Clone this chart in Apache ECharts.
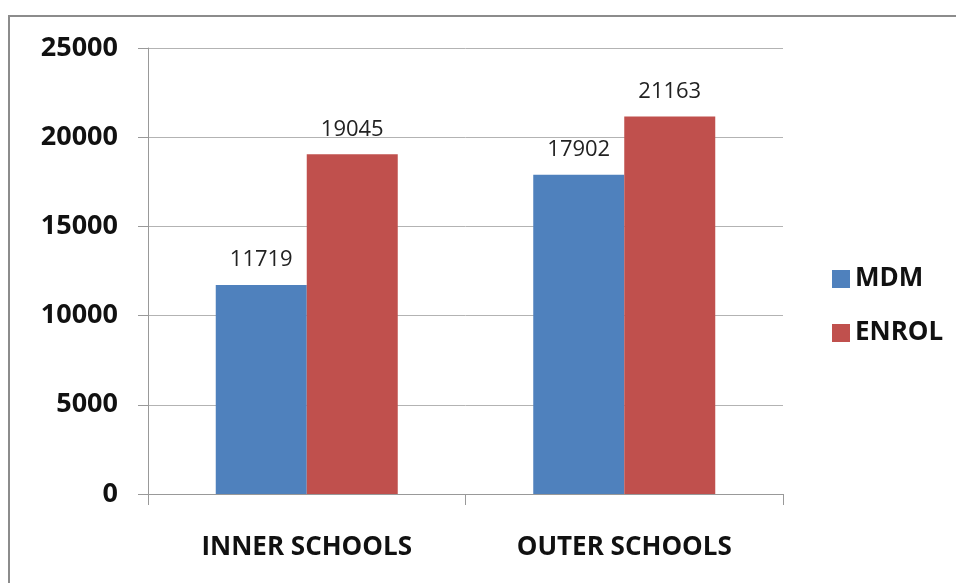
<!DOCTYPE html>
<html>
<head>
<meta charset="utf-8">
<script src="https://cdn.jsdelivr.net/npm/echarts@6/dist/echarts.min.js"></script>
<style>html,body{margin:0;padding:0;background:#fff;}#c{width:956px;height:583px;}</style>
</head>
<body>
<div id="c"></div>
<script>
const categories = ['INNER SCHOOLS', 'OUTER SCHOOLS'];
const mdm = [11719, 17902];
const enrol = [19045, 21163];
const yTicks = [0, 5000, 10000, 15000, 20000, 25000];

const chart = echarts.init(document.getElementById('c'));
const labelStyle = {show: true, position: 'top', distance: 14, fontFamily: 'Open Sans', fontSize: 22, color: '#222'};
chart.setOption({
  animation: false,
  backgroundColor: '#fff',
  graphic: [{type: 'rect', shape: {x: 9, y: 16, width: 1000, height: 700}, style: {fill: 'none', stroke: '#8c8c8c', lineWidth: 2}, silent: true}],
  grid: {left: 148, top: 48, right: 173, bottom: 89, containLabel: false},
  legend: {
    orient: 'vertical', left: 827, top: 261,
    itemWidth: 18, itemHeight: 18, itemGap: 28, icon: 'rect',
    textStyle: {fontFamily: 'Open Sans', fontWeight: 'bold', fontSize: 26, color: '#111', lineHeight: 22, padding: [2, 0, 0, 0]},
    data: ['MDM', 'ENROL']
  },
  xAxis: {
    type: 'category', data: categories,
    axisLine: {lineStyle: {color: '#999', width: 1}},
    axisTick: {show: true, length: 11, alignWithLabel: false, lineStyle: {color: '#999'}},
    axisLabel: {margin: 41, fontFamily: 'Open Sans', fontWeight: 'bold', fontSize: 26, color: '#111'}
  },
  yAxis: {
    type: 'value', min: 0, max: 25000, interval: 5000,
    axisLine: {show: true, lineStyle: {color: '#999', width: 1}},
    axisTick: {show: true, length: 10, lineStyle: {color: '#999'}},
    splitLine: {show: true, lineStyle: {color: '#b3b3b3', width: 1}},
    axisLabel: {margin: 30, fontFamily: 'Open Sans', fontWeight: 'bold', fontSize: 27, color: '#111',
      formatter: v => yTicks.includes(v) ? String(v) : ''}
  },
  series: [
    {name: 'MDM', type: 'bar', data: mdm, barWidth: 91, barGap: '0%', itemStyle: {color: '#4F81BD'}, label: labelStyle},
    {name: 'ENROL', type: 'bar', data: enrol, barWidth: 91, barGap: '0%', itemStyle: {color: '#C0504D'}, label: labelStyle}
  ]
});
</script>
</body>
</html>
